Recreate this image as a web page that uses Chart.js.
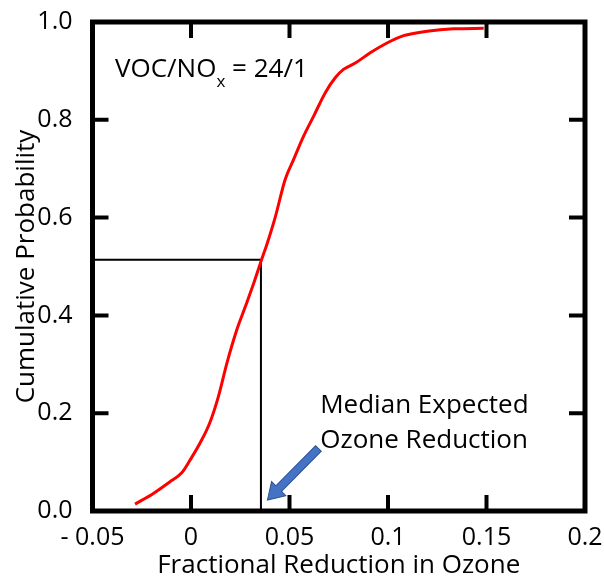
<!DOCTYPE html>
<html>
<head>
<meta charset="utf-8">
<script src="https://cdn.jsdelivr.net/npm/chart.js@4/dist/chart.umd.min.js"></script>
<style>
  body { margin: 0; background: #fff; }
  canvas { display: block; }
</style>
</head>
<body>
<canvas id="chart" width="604" height="582"></canvas>
<script>
// cumulative probability curve
const reductionX = [-0.0284, -0.0191, -0.0106, -0.0047, -0.0005, 0.0046, 0.0095, 0.0139, 0.0182, 0.0233,
  0.0275, 0.0317, 0.0355, 0.0385, 0.0427, 0.0478, 0.0520, 0.0571, 0.0622, 0.0681, 0.0732, 0.0774,
  0.0834, 0.0910, 0.0995, 0.1079, 0.1198, 0.1333, 0.1486];
const probabilityY = [0.014, 0.036, 0.060, 0.078, 0.104, 0.139, 0.180, 0.234, 0.302, 0.371,
  0.417, 0.464, 0.510, 0.545, 0.600, 0.678, 0.718, 0.766, 0.807, 0.855, 0.886, 0.903,
  0.916, 0.937, 0.957, 0.972, 0.981, 0.986, 0.987];

// median guide lines
const medianX = [-0.05, 0.0355, 0.0355];
const medianY = [0.514, 0.514, 0];

// arrow tail -> tip
const arrowX = [0.0647, 0.0388];
const arrowY = [0.128, 0.0225];

const xTickValues = [-0.05, 0, 0.05, 0.1, 0.15, 0.2];
const xTickLabels = ['- 0.05', '0', '0.05', '0.1', '0.15', '0.2'];
const yTickValues = [0, 0.2, 0.4, 0.6, 0.8, 1.0];
const yTickLabels = ['0.0', '0.2', '0.4', '0.6', '0.8', '1.0'];

const FONT = '"Open Sans", sans-serif';

const framePlugin = {
  id: 'frame',
  afterDatasetsDraw(chart) {
    const { ctx, chartArea: a, scales: { x, y } } = chart;
    ctx.save();
    ctx.strokeStyle = '#000';

    // inward ticks on all four sides
    ctx.lineWidth = 4;
    ctx.beginPath();
    xTickValues.slice(1, -1).forEach((v) => {
      const px = x.getPixelForValue(v);
      ctx.moveTo(px, a.bottom); ctx.lineTo(px, a.bottom - 16);
      ctx.moveTo(px, a.top); ctx.lineTo(px, a.top + 16);
    });
    yTickValues.slice(1, -1).forEach((v) => {
      const py = y.getPixelForValue(v);
      ctx.moveTo(a.left, py); ctx.lineTo(a.left + 16, py);
      ctx.moveTo(a.right, py); ctx.lineTo(a.right - 16, py);
    });
    ctx.stroke();

    ctx.lineWidth = 5;
    ctx.strokeRect(a.left, a.top, a.right - a.left, a.bottom - a.top);

    // blue block arrow
    const x0 = x.getPixelForValue(arrowX[0]), y0 = y.getPixelForValue(arrowY[0]);
    const x1 = x.getPixelForValue(arrowX[1]), y1 = y.getPixelForValue(arrowY[1]);
    const ang = Math.atan2(y1 - y0, x1 - x0);
    const len = Math.hypot(x1 - x0, y1 - y0);
    const shaft = 4, head = 10, headLen = 16;
    ctx.translate(x0, y0);
    ctx.rotate(ang);
    ctx.beginPath();
    ctx.moveTo(0, -shaft);
    ctx.lineTo(len - headLen, -shaft);
    ctx.lineTo(len - headLen, -head);
    ctx.lineTo(len, 0);
    ctx.lineTo(len - headLen, head);
    ctx.lineTo(len - headLen, shaft);
    ctx.lineTo(0, shaft);
    ctx.closePath();
    ctx.fillStyle = '#4472C4';
    ctx.fill();
    ctx.lineWidth = 1;
    ctx.strokeStyle = '#2F528F';
    ctx.stroke();
    ctx.setTransform(1, 0, 0, 1, 0, 0);

    // annotations
    ctx.fillStyle = '#000';
    ctx.textBaseline = 'alphabetic';
    ctx.textAlign = 'left';
    ctx.font = '26px ' + FONT;
    let tx = x.getPixelForValue(-0.0386), ty = y.getPixelForValue(0.888);
    ctx.fillText('VOC/NO', tx, ty);
    tx += ctx.measureText('VOC/NO').width;
    ctx.font = '17px ' + FONT;
    ctx.fillText('x', tx, ty + 10);
    tx += ctx.measureText('x').width;
    ctx.font = '26px ' + FONT;
    ctx.fillText(' = 24/1', tx, ty);

    const mx = x.getPixelForValue(0.0656);
    ctx.fillText('Median Expected', mx, y.getPixelForValue(0.2006));
    ctx.fillText('Ozone Reduction', mx, y.getPixelForValue(0.129));
    ctx.restore();
  }
};

new Chart(document.getElementById('chart'), {
  type: 'scatter',
  data: {
    datasets: [
      {
        data: reductionX.map((v, i) => ({ x: v, y: probabilityY[i] })),
        showLine: true,
        borderColor: '#FF0000',
        borderWidth: 3,
        pointRadius: 0,
        cubicInterpolationMode: 'monotone',
        order: 1,
      },
      {
        data: medianX.map((v, i) => ({ x: v, y: medianY[i] })),
        showLine: true,
        borderColor: '#000',
        borderWidth: 2,
        pointRadius: 0,
        order: 2,
      },
    ],
  },
  options: {
    responsive: false,
    animation: false,
    events: [],
    layout: { padding: { top: 22, right: 19, left: 0, bottom: 0 } },
    plugins: { legend: { display: false }, tooltip: { enabled: false } },
    scales: {
      x: {
        type: 'linear',
        min: -0.05,
        max: 0.2,
        afterBuildTicks: (s) => { s.ticks = xTickValues.map((v) => ({ value: v })); },
        afterFit: (s) => { s.height = 71; s.paddingLeft = 0; s.paddingRight = 0; },
        grid: { display: false },
        border: { display: false },
        ticks: {
          color: '#000',
          font: { family: FONT, size: 25 },
          padding: 4,
          maxRotation: 0,
          autoSkip: false,
          callback: (v, i) => xTickLabels[i],
        },
        title: {
          display: true,
          text: 'Fractional Reduction in Ozone',
          color: '#000',
          font: { family: FONT, size: 26 },
          padding: { top: 0, bottom: 1 },
        },
      },
      y: {
        min: 0,
        max: 1,
        afterBuildTicks: (s) => { s.ticks = yTickValues.map((v) => ({ value: v })); },
        afterFit: (s) => { s.width = 92.5; s.paddingTop = 0; s.paddingBottom = 0; },
        grid: { display: false },
        border: { display: false },
        ticks: {
          color: '#000',
          font: { family: FONT, size: 25 },
          padding: 12,
          callback: (v, i) => yTickLabels[i],
        },
        title: {
          display: true,
          text: 'Cumulative Probability',
          color: '#000',
          font: { family: FONT, size: 26 },
          padding: { top: 11, bottom: 0 },
        },
      },
    },
  },
  plugins: [framePlugin],
});
</script>
</body>
</html>
